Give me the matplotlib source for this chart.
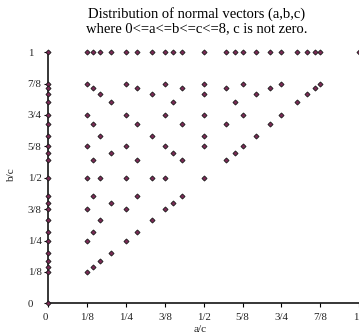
import matplotlib.pyplot as plt

plt.rcParams['font.family'] = ['Liberation Serif', 'DejaVu Serif']

# numerator pairs (a, b) for each denominator c; point = (a/c, b/c)
pairs_c8 = [(0, 0), (0, 1), (0, 2), (0, 3), (0, 4), (0, 5), (0, 6), (0, 7), (0, 8),
            (1, 1), (1, 2), (1, 3), (1, 4), (1, 5), (1, 6), (1, 7), (1, 8),
            (2, 2), (2, 3), (2, 4), (2, 5), (2, 6), (2, 7), (2, 8),
            (3, 3), (3, 4), (3, 5), (3, 6), (3, 7), (3, 8),
            (4, 4), (4, 5), (4, 6), (4, 7), (4, 8),
            (5, 5), (5, 6), (5, 7), (5, 8),
            (6, 6), (6, 7), (6, 8),
            (7, 7), (7, 8),
            (8, 8)]
pairs_c7 = [(0, 1), (0, 2), (0, 3), (0, 4), (0, 5), (0, 6),
            (1, 1), (1, 2), (1, 3), (1, 4), (1, 5), (1, 6), (1, 7),
            (2, 2), (2, 3), (2, 4), (2, 5), (2, 6), (2, 7),
            (3, 3), (3, 4), (3, 5), (3, 6), (3, 7),
            (4, 4), (4, 5), (4, 6), (4, 7),
            (5, 5), (5, 6), (5, 7),
            (6, 6), (6, 7)]
pairs_c6 = [(0, 1), (0, 2), (0, 4), (0, 5),
            (1, 1), (1, 2), (1, 3), (1, 4), (1, 5), (1, 6),
            (2, 2), (2, 3), (2, 4), (2, 5), (2, 6),
            (3, 4), (3, 5),
            (4, 4), (4, 5), (4, 6),
            (5, 5), (5, 6)]
pairs_c5 = [(0, 1), (0, 2), (0, 3), (0, 4),
            (1, 1), (1, 2), (1, 3), (1, 4), (1, 5),
            (2, 2), (2, 3), (2, 4), (2, 5),
            (3, 3), (3, 4), (3, 5),
            (4, 4), (4, 5)]
all_pairs = {8: pairs_c8, 7: pairs_c7, 6: pairs_c6, 5: pairs_c5}

tick_vals = [0, 0.125, 0.25, 0.375, 0.5, 0.625, 0.75, 0.875, 1]
tick_labels = ['0', '1/8', '1/4', '3/8', '1/2', '5/8', '3/4', '7/8', '1']

xs = []
ys = []
for c, pairs in all_pairs.items():
    for a, b in pairs:
        xs.append(a / c)
        ys.append(b / c)

fig = plt.figure(figsize=(3.59, 3.36), dpi=100)
ax = fig.add_axes([48.5 / 359, 32.7 / 336, 310.5 / 359, 251.2 / 336])

ax.plot(xs, ys, linestyle='none', marker='D', markersize=2.6,
        markerfacecolor='#7a2a55', markeredgecolor='#1a1a1a',
        markeredgewidth=0.6, clip_on=False, zorder=3)

ax.set_xlim(0, 1)
ax.set_ylim(0, 1)
ax.spines['top'].set_visible(False)
ax.spines['right'].set_visible(False)
ax.spines['left'].set_linewidth(1.1)
ax.spines['bottom'].set_linewidth(1.1)

ax.set_xticks(tick_vals)
ax.set_xticklabels(tick_labels)
ax.set_yticks(tick_vals)
ax.set_yticklabels(tick_labels)
ax.tick_params(axis='both', length=3, width=0.8, labelsize=7.8, labelcolor='#222222')
ax.tick_params(axis='x', pad=4)
ax.tick_params(axis='y', pad=12)
for lbl in ax.get_yticklabels():
    lbl.set_horizontalalignment('left')
xl = ax.get_xticklabels()
xl[0].set_horizontalalignment('right')
xl[-1].set_horizontalalignment('right')

fig.text(197 / 359, 1 - 21 / 336,
         'Distribution of normal vectors (a,b,c)\nwhere 0<=a<=b<=c<=8, c is not zero.',
         ha='center', va='center', fontsize=10.5, linespacing=1.05)
fig.text(12 / 359, 1 - 175 / 336, 'b/c', rotation=90, ha='center', va='center',
         fontsize=8.2, color='#222222')
fig.text(200 / 359, 1 - 330 / 336, 'a/c', ha='center', va='center',
         fontsize=8.2, color='#222222')

fig.savefig('out.png', dpi=100)
